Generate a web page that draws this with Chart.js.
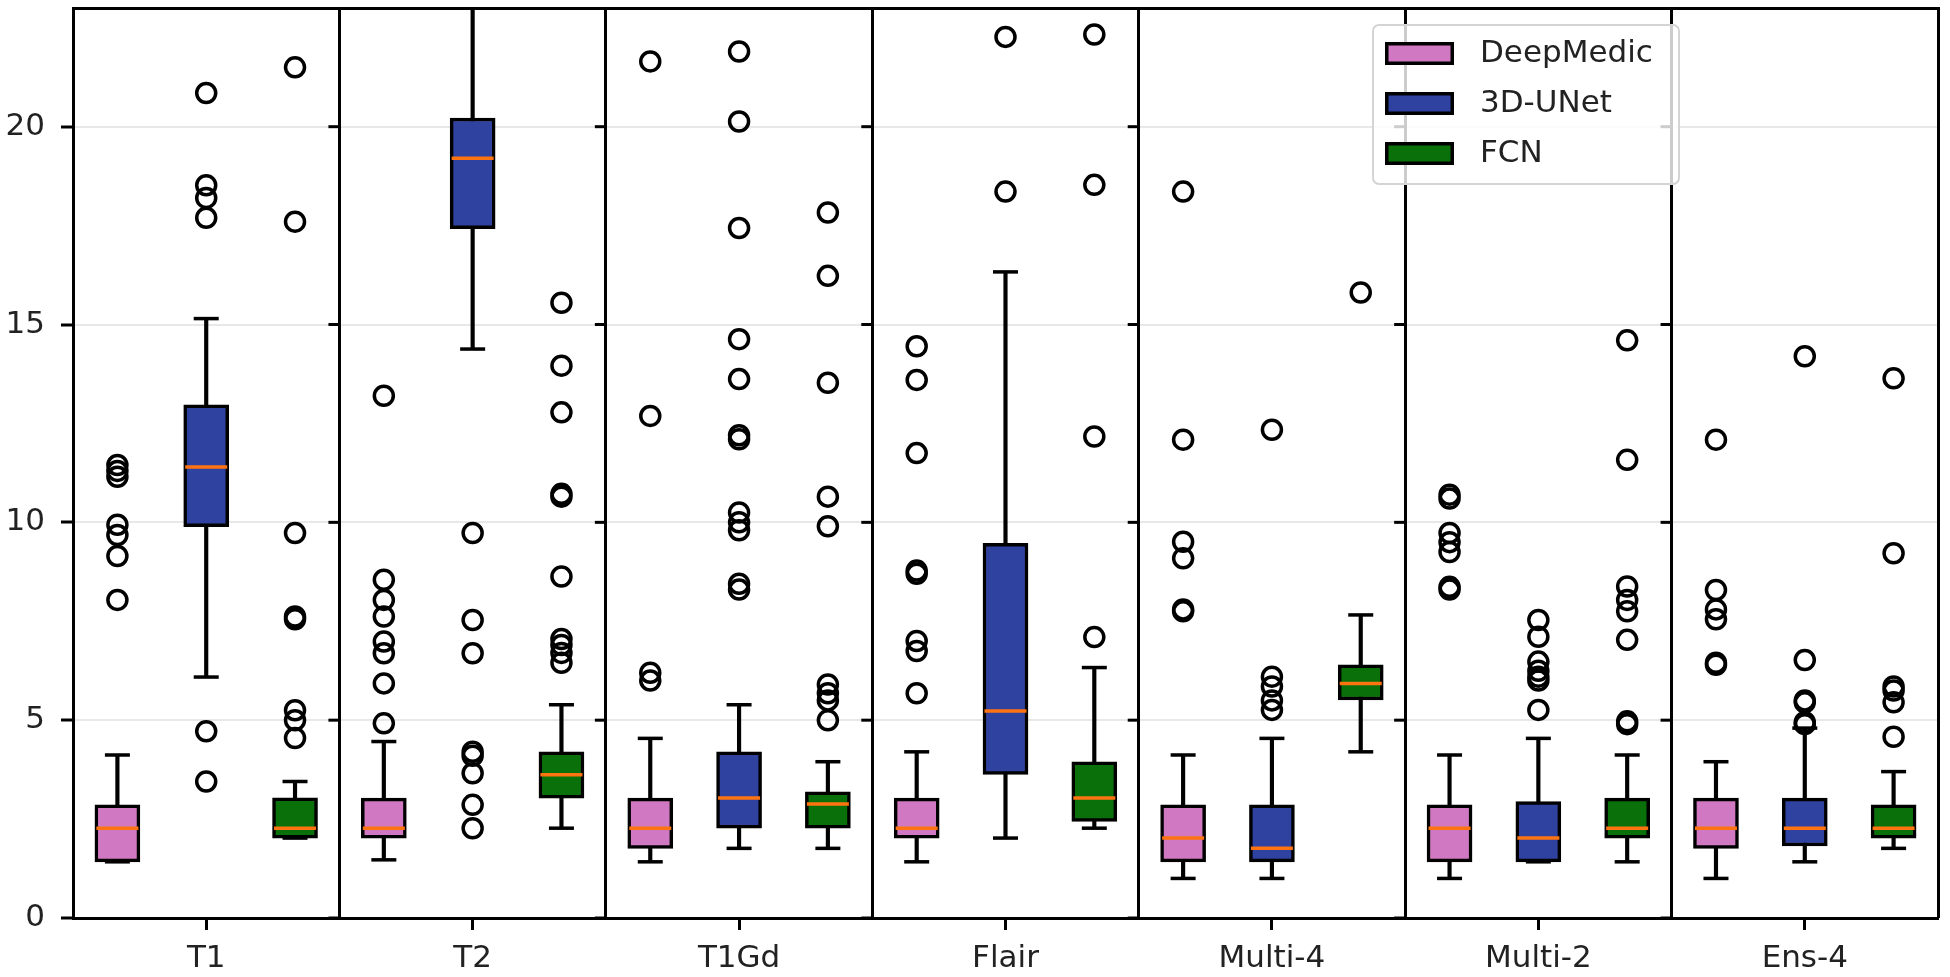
<!DOCTYPE html>
<html>
<head>
<meta charset="utf-8">
<title>Box plots per input</title>
<script src="https://cdn.jsdelivr.net/npm/chart.js@4.4.1/dist/chart.umd.min.js"></script>
<style>
  html, body { margin: 0; padding: 0; background: #fff; }
  #wrap { width: 1950px; height: 977px; }
</style>
</head>
<body>
<div id="wrap"><canvas id="boxChart" width="1950" height="977"></canvas></div>
<script>
const categories = ['T1', 'T2', 'T1Gd', 'Flair', 'Multi-4', 'Multi-2', 'Ens-4'];
const seriesNames = ['DeepMedic', '3D-UNet', 'FCN'];
const yTicks = [0, 5, 10, 15, 20];

// [lower whisker, Q1, median, Q3, upper whisker] per category
const deepMedicBoxes = [
  [1.42, 1.42, 2.27, 2.86, 4.12],
  [1.47, 2.02, 2.27, 3.03, 4.46],
  [1.42, 1.76, 2.27, 3.03, 4.54],
  [1.42, 2.02, 2.27, 3.03, 4.20],
  [1.00, 1.42, 2.02, 2.86, 4.12],
  [1.00, 1.42, 2.27, 2.86, 4.12],
  [1.00, 1.76, 2.27, 3.03, 3.95]
];
const unetBoxes = [
  [6.09, 9.89, 11.40, 12.97, 15.15],
  [14.38, 17.42, 19.20, 20.22, 24.50],
  [1.76, 2.27, 3.03, 4.20, 5.39],
  [2.02, 3.63, 5.23, 9.47, 16.33],
  [1.00, 1.42, 1.76, 2.86, 4.54],
  [1.42, 1.42, 2.02, 2.94, 4.54],
  [1.42, 1.82, 2.27, 3.03, 4.80]
];
const fcnBoxes = [
  [2.02, 2.02, 2.27, 3.04, 3.45],
  [2.27, 3.03, 3.62, 4.20, 5.39],
  [1.76, 2.27, 2.88, 3.19, 3.95],
  [2.27, 2.44, 3.03, 3.95, 6.33],
  [4.20, 5.51, 5.93, 6.40, 7.66],
  [1.42, 2.02, 2.27, 3.03, 4.12],
  [1.76, 2.02, 2.27, 2.86, 3.70]
];

const deepMedicOutliers = [
  [8.04, 9.15, 9.68, 9.94, 11.15, 11.30, 11.45],
  [4.92, 5.93, 6.69, 6.99, 7.62, 8.04, 8.55, 13.20],
  [6.00, 6.20, 12.69, 21.65],
  [5.68, 6.75, 7.00, 8.70, 8.78, 11.75, 13.60, 14.45],
  [7.75, 7.80, 9.09, 9.51, 12.09, 18.36],
  [8.30, 8.37, 9.25, 9.50, 9.73, 10.60, 10.70],
  [6.40, 6.45, 7.55, 7.80, 8.29, 12.09]
];
const unetOutliers = [
  [3.45, 4.72, 17.70, 18.20, 18.52, 20.85],
  [2.27, 2.86, 3.66, 4.10, 4.20, 6.69, 7.53, 9.73],
  [8.30, 8.45, 9.80, 10.00, 10.25, 12.10, 12.20, 13.62, 14.63, 17.44, 20.13, 21.90],
  [18.36, 22.27],
  [5.26, 5.50, 5.85, 6.10, 12.34],
  [5.26, 6.00, 6.10, 6.25, 6.48, 7.11, 7.53],
  [4.90, 4.95, 5.45, 5.50, 6.52, 14.20]
];
const fcnOutliers = [
  [4.55, 5.00, 5.25, 7.55, 7.62, 9.73, 17.60, 21.50],
  [6.45, 6.70, 6.90, 7.05, 8.63, 10.65, 10.72, 12.78, 13.96, 15.55],
  [5.00, 5.50, 5.68, 5.90, 9.90, 10.65, 13.53, 16.23, 17.83],
  [7.10, 12.17, 18.53, 22.33],
  [15.81],
  [4.90, 4.97, 7.03, 7.75, 8.04, 8.38, 11.58, 14.60],
  [4.58, 5.45, 5.75, 5.85, 9.22, 13.64]
];

const seriesColors = ['#d078c2', '#2f42a0', '#0a700a'];
const boxStats = [deepMedicBoxes, unetBoxes, fcnBoxes];
const outlierSets = [deepMedicOutliers, unetOutliers, fcnOutliers];

Chart.defaults.font.family = '"DejaVu Sans", sans-serif';
Chart.defaults.color = '#222';

// box position inside its category: left, middle, right
function xPos(cat, s) {
  return cat + 0.5 + (s - 1) / 3;
}

const datasets = [];
seriesNames.forEach((name, s) => {
  const stats = boxStats[s];
  datasets.push({
    type: 'bar',
    data: stats.map((b, c) => ({ x: xPos(c, s), y: [b[0], b[4]] })),
    backgroundColor: '#000',
    barThickness: 3.5,
    grouped: false,
    order: 5
  });
  datasets.push({
    type: 'bar',
    label: name,
    legendItem: true,
    data: stats.map((b, c) => ({ x: xPos(c, s), y: [b[1], b[3]] })),
    backgroundColor: seriesColors[s],
    borderColor: '#000',
    borderWidth: 3.5,
    borderSkipped: false,
    barThickness: 45,
    grouped: false,
    order: 4
  });
  datasets.push({
    type: 'scatter',
    data: stats.flatMap((b, c) => [{ x: xPos(c, s), y: b[0] }, { x: xPos(c, s), y: b[4] }]),
    pointStyle: 'line',
    pointRadius: 12.5,
    pointBorderColor: '#000',
    borderColor: '#000',
    pointBorderWidth: 3.5,
    order: 3
  });
  datasets.push({
    type: 'scatter',
    data: stats.map((b, c) => ({ x: xPos(c, s), y: b[2] })),
    pointStyle: 'line',
    pointRadius: 21,
    pointBorderColor: '#ff7410',
    borderColor: '#ff7410',
    pointBorderWidth: 3.5,
    order: 2
  });
  datasets.push({
    type: 'scatter',
    data: outlierSets[s].flatMap((vals, c) => vals.map(v => ({ x: xPos(c, s), y: v }))),
    pointStyle: 'circle',
    pointRadius: 9.5,
    pointBackgroundColor: 'rgba(0,0,0,0)',
    pointBorderColor: '#000',
    borderColor: '#000',
    pointBorderWidth: 3.5,
    order: 1
  });
});

// little y tick marks on every panel divider
const innerTicks = {
  id: 'innerTicks',
  beforeDatasetsDraw(chart) {
    const { ctx, scales: { x2, y } } = chart;
    ctx.save();
    ctx.strokeStyle = '#000';
    ctx.lineWidth = 3;
    x2.ticks.slice(1, -1).forEach(t => {
      const px = x2.getPixelForValue(t.value);
      y.ticks.forEach(yt => {
        const py = y.getPixelForValue(yt.value);
        ctx.beginPath();
        ctx.moveTo(px - 11, py);
        ctx.lineTo(px, py);
        ctx.stroke();
      });
    });
    ctx.restore();
  }
};

// legend box inside the plot, upper right
const legendBox = {
  id: 'legendBox',
  afterDatasetsDraw(chart) {
    const { ctx, chartArea } = chart;
    const items = chart.data.datasets.filter(d => d.legendItem);
    const x0 = chartArea.left + 1300;
    const y0 = chartArea.top + 17;
    ctx.save();
    ctx.beginPath();
    ctx.roundRect(x0, y0, 306, 159, 6);
    ctx.fillStyle = 'rgba(255,255,255,0.8)';
    ctx.fill();
    ctx.strokeStyle = '#d4d4d4';
    ctx.lineWidth = 2;
    ctx.stroke();
    items.forEach((d, i) => {
      const top = y0 + 17 + i * 50;
      ctx.fillStyle = d.backgroundColor;
      ctx.fillRect(x0 + 12, top, 69, 23);
      ctx.strokeStyle = '#000';
      ctx.lineWidth = 3.5;
      ctx.strokeRect(x0 + 13.75, top + 1.75, 65.5, 19.5);
      ctx.fillStyle = '#222';
      ctx.font = '31px "DejaVu Sans", sans-serif';
      ctx.textBaseline = 'middle';
      ctx.fillText(d.label, x0 + 107, top + 12);
    });
    ctx.restore();
  }
};

new Chart(document.getElementById('boxChart'), {
  type: 'bar',
  data: { datasets: datasets },
  plugins: [innerTicks, legendBox],
  options: {
    responsive: false,
    devicePixelRatio: 1,
    animation: false,
    events: [],
    layout: { autoPadding: false, padding: { left: 0, right: 12, top: 8, bottom: 0 } },
    plugins: {
      legend: { display: false },
      tooltip: { enabled: false }
    },
    scales: {
      x: {
        type: 'linear',
        min: 0,
        max: 7,
        offset: false,
        afterBuildTicks: scale => {
          scale.ticks = categories.map((c, i) => ({ value: i + 0.5 }));
        },
        afterFit: scale => {
          scale.height = 59;
          scale.paddingLeft = 0;
          scale.paddingRight = 0;
        },
        ticks: {
          autoSkip: false,
          maxRotation: 0,
          padding: 10,
          font: { size: 31 },
          callback: (value, index) => categories[index]
        },
        grid: {
          offset: false,
          drawOnChartArea: false,
          tickLength: 12,
          tickColor: '#000',
          tickWidth: 3
        },
        border: { color: '#000', width: 3 }
      },
      x2: {
        type: 'linear',
        position: 'top',
        min: 0,
        max: 7,
        offset: false,
        afterFit: scale => {
          scale.height = 0;
          scale.paddingLeft = 0;
          scale.paddingRight = 0;
        },
        ticks: { display: false, stepSize: 1 },
        grid: { offset: false, color: '#000', lineWidth: 3, drawTicks: false, z: 0 },
        border: { color: '#000', width: 3 }
      },
      y: {
        type: 'linear',
        min: 0,
        max: 23,
        afterBuildTicks: scale => {
          scale.ticks = yTicks.map(v => ({ value: v }));
        },
        afterFit: scale => {
          scale.width = 73;
          scale.paddingTop = 0;
          scale.paddingBottom = 0;
        },
        ticks: { padding: 16, font: { size: 31 } },
        grid: {
          color: '#e8e8e8',
          lineWidth: 2,
          tickLength: 12,
          tickColor: '#000',
          tickWidth: 3
        },
        border: { color: '#000', width: 3 }
      }
    }
  }
});
</script>
</body>
</html>
